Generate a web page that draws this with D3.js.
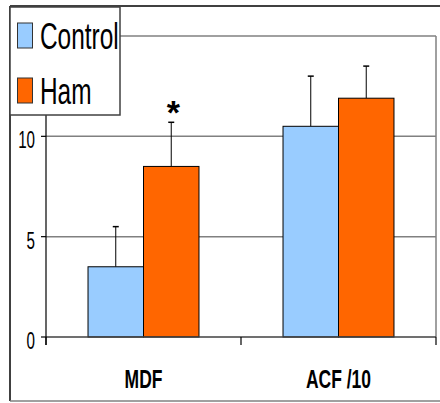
<!DOCTYPE html>
<html>
<head>
<meta charset="utf-8">
<script src="https://cdn.jsdelivr.net/npm/d3@7"></script>
<style>
  body { margin: 0; background: #fff; }
  svg { display: block; }
  text { font-family: "Liberation Sans", Arial, sans-serif; }
</style>
</head>
<body>
<div id="chart"></div>
<script>
const categories = ["MDF", "ACF /10"];
const series = ["Control", "Ham"];
const controlValues = [3.5, 10.5];
const hamValues = [8.5, 11.9];
const controlErrors = [2.0, 2.5];
const hamErrors = [2.2, 1.6];
const yTicks = [0, 5, 10, 15];
const yTickLabels = ["0", "5", "10", ""];
const colors = { Control: "#99CCFF", Ham: "#FF6600" };

const width = 440;
const height = 403;
const plot = { left: 46, right: 436, top: 36, bottom: 337 };
const squeeze = 0.66; // text in the original is horizontally condensed

const svg = d3.select("#chart")
    .append("svg")
    .attr("width", width)
    .attr("height", height);

// outer frame
svg.append("line").attr("x1", 10).attr("x2", width).attr("y1", 6).attr("y2", 6)
    .attr("stroke", "#000").attr("stroke-width", 1.5);
svg.append("line").attr("x1", 10).attr("x2", 10).attr("y1", 6).attr("y2", 401)
    .attr("stroke", "#404040").attr("stroke-width", 2);
svg.append("line").attr("x1", 10).attr("x2", width).attr("y1", 401).attr("y2", 401)
    .attr("stroke", "#808080").attr("stroke-width", 1.5);

const y = d3.scaleLinear().domain([0, 15]).range([plot.bottom, plot.top]);
const x = d3.scaleBand().domain(categories).range([plot.left, plot.right])
    .paddingInner(0.431).paddingOuter(0.2155);
const xSub = d3.scaleBand().domain(series).range([0, x.bandwidth()]);
const xTickPos = d3.scaleBand().domain(categories).range([plot.left, plot.right]);

// gridlines + plot border (grey)
svg.append("g").selectAll("line")
    .data(yTicks.filter(d => d > 0))
    .join("line")
    .attr("x1", plot.left).attr("x2", plot.right)
    .attr("y1", d => y(d)).attr("y2", d => y(d))
    .attr("stroke", "#808080").attr("stroke-width", 1.5);
svg.append("line")
    .attr("x1", plot.right).attr("x2", plot.right)
    .attr("y1", plot.top).attr("y2", plot.bottom)
    .attr("stroke", "#808080").attr("stroke-width", 1.5);

// bars
const rows = categories.map((c, i) => ({
    cat: c,
    vals: [
        { s: "Control", v: controlValues[i], e: controlErrors[i] },
        { s: "Ham", v: hamValues[i], e: hamErrors[i] }
    ]
}));

const groups = svg.append("g").selectAll("g")
    .data(rows)
    .join("g")
    .attr("transform", d => `translate(${x(d.cat)},0)`);

// error bars first so the bar outline covers the base
groups.selectAll(".err")
    .data(d => d.vals)
    .join("g")
    .attr("class", "err")
    .each(function(d) {
        const g = d3.select(this);
        const cx = xSub(d.s) + xSub.bandwidth() / 2;
        g.append("line").attr("x1", cx).attr("x2", cx)
            .attr("y1", y(d.v)).attr("y2", y(d.v + d.e))
            .attr("stroke", "#000").attr("stroke-width", 1);
        g.append("line").attr("x1", cx - 3).attr("x2", cx + 3)
            .attr("y1", y(d.v + d.e)).attr("y2", y(d.v + d.e))
            .attr("stroke", "#000").attr("stroke-width", 1.5);
    });

groups.selectAll("rect")
    .data(d => d.vals)
    .join("rect")
    .attr("x", d => xSub(d.s))
    .attr("y", d => y(d.v))
    .attr("width", xSub.bandwidth())
    .attr("height", d => y(0) - y(d.v))
    .attr("fill", d => colors[d.s])
    .attr("stroke", "#000")
    .attr("stroke-width", 1);

// x axis line and ticks
svg.append("line").attr("x1", plot.left).attr("x2", plot.right)
    .attr("y1", plot.bottom).attr("y2", plot.bottom)
    .attr("stroke", "#404040").attr("stroke-width", 1.5);
const xTicks = categories.map(c => xTickPos(c)).concat([plot.right]);
svg.append("g").selectAll("line")
    .data(xTicks)
    .join("line")
    .attr("x1", d => d).attr("x2", d => d)
    .attr("y1", plot.bottom).attr("y2", plot.bottom + 8)
    .attr("stroke", "#000").attr("stroke-width", 1.2);

svg.append("g").selectAll("text")
    .data(categories)
    .join("text")
    .attr("transform", d => `translate(${x(d) + x.bandwidth() / 2},388) scale(${squeeze},1)`)
    .attr("text-anchor", "middle")
    .attr("font-size", 26.5)
    .attr("font-weight", "bold")
    .text(d => d);

// y axis
svg.append("line").attr("x1", plot.left).attr("x2", plot.left)
    .attr("y1", 115).attr("y2", plot.bottom + 8)
    .attr("stroke", "#000").attr("stroke-width", 1.2);
svg.append("g").selectAll("line")
    .data(yTicks.slice(0, 3))
    .join("line")
    .attr("x1", plot.left - 5).attr("x2", plot.left)
    .attr("y1", d => y(d)).attr("y2", d => y(d))
    .attr("stroke", "#000").attr("stroke-width", 1.2);
svg.append("g").selectAll("text")
    .data(yTicks.slice(0, 3))
    .join("text")
    .attr("transform", d => `translate(35,${y(d) + 12}) scale(${squeeze},1)`)
    .attr("text-anchor", "end")
    .attr("font-size", 23)
    .text((d, i) => yTickLabels[i]);

// significance mark
svg.append("text")
    .attr("transform", `translate(${x("MDF") + xSub("Ham") + xSub.bandwidth() / 2 + 2},124)`)
    .attr("text-anchor", "middle")
    .attr("font-family", "DejaVu Sans")
    .attr("font-size", 34)
    .attr("font-weight", "bold")
    .text("*");

// legend
const legend = svg.append("g");
legend.append("rect")
    .attr("x", 10).attr("y", 7).attr("width", 110).attr("height", 108)
    .attr("fill", "#fff").attr("stroke", "#404040").attr("stroke-width", 1.5);
const items = legend.selectAll("g")
    .data(series)
    .join("g")
    .attr("transform", (d, i) => `translate(0,${i * 55})`);
items.append("rect")
    .attr("x", 17.5).attr("y", 23).attr("width", 15).attr("height", 25)
    .attr("fill", d => colors[d]).attr("stroke", "#333").attr("stroke-width", 1);
items.append("text")
    .attr("transform", `translate(40,49) scale(${squeeze},1)`)
    .attr("font-size", 37)
    .text(d => d);
</script>
</body>
</html>
